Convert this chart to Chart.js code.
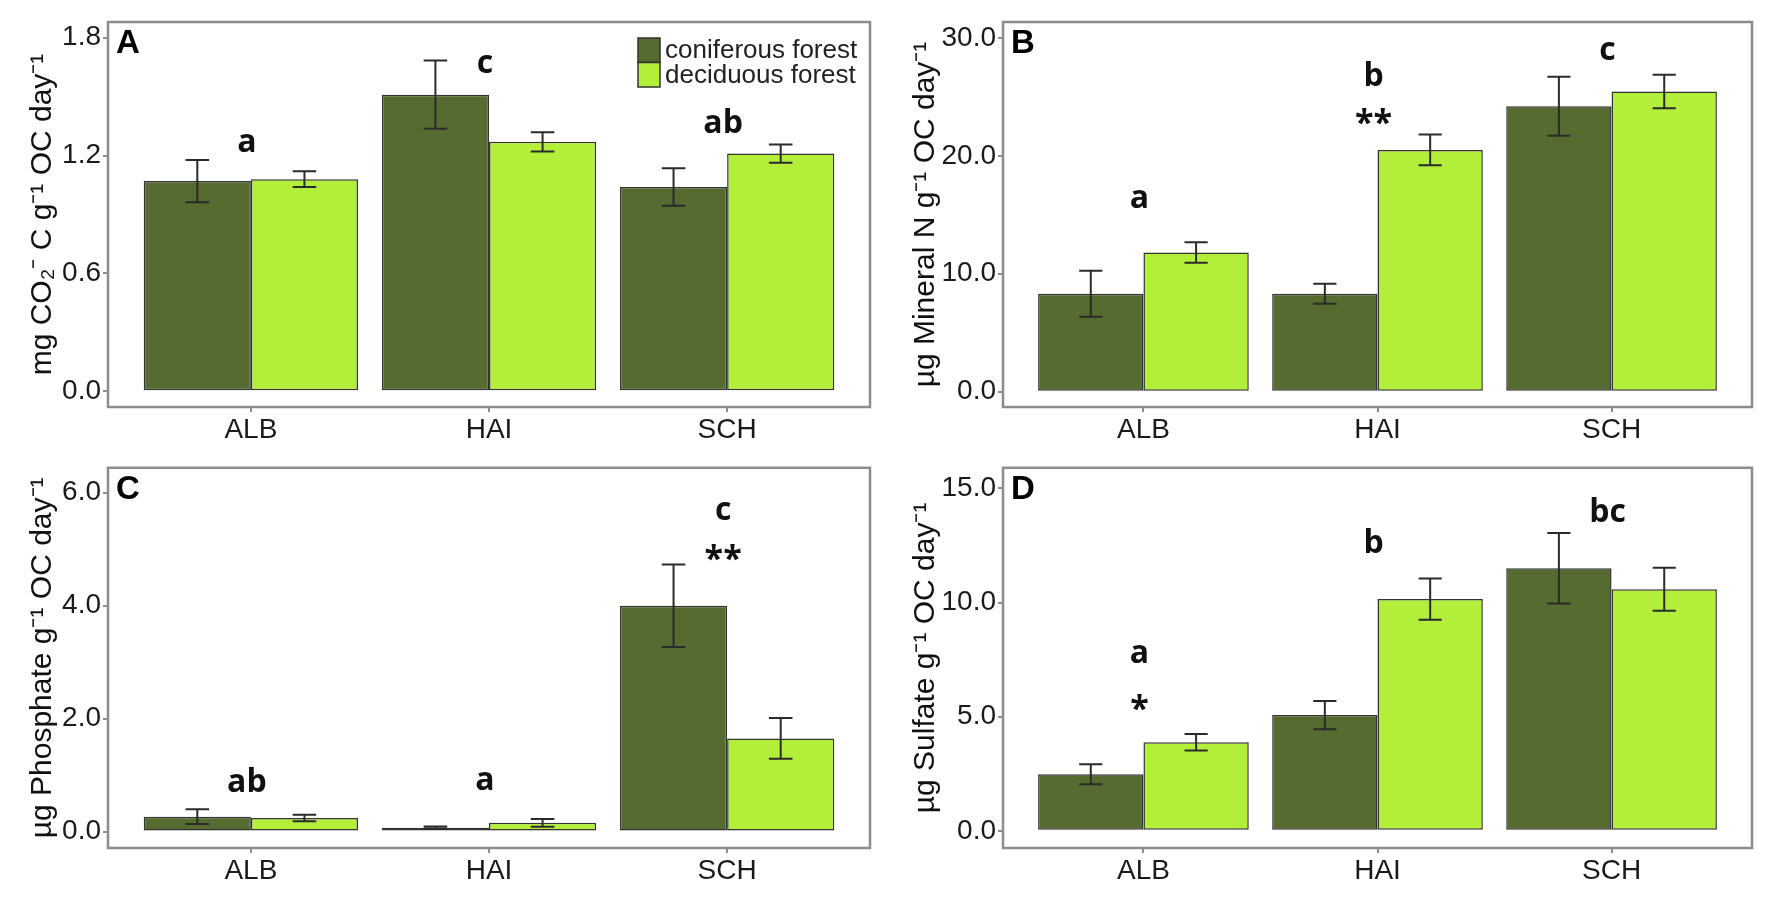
<!DOCTYPE html>
<html>
<head>
<meta charset="utf-8">
<script src="https://cdn.jsdelivr.net/npm/chart.js@4.4.1/dist/chart.umd.min.js"></script>
<style>
  html, body { margin: 0; padding: 0; background: #fff; }
  #fig { position: relative; width: 1770px; height: 899px; }
  #fig canvas { position: absolute; }
</style>
</head>
<body>
<div id="fig">
  <canvas id="chartA" width="885" height="449" style="left:0px;top:0px"></canvas>
  <canvas id="chartB" width="885" height="449" style="left:885px;top:0px"></canvas>
  <canvas id="chartC" width="885" height="450" style="left:0px;top:449px"></canvas>
  <canvas id="chartD" width="885" height="450" style="left:885px;top:449px"></canvas>
</div>
<script>
const sites = ['ALB', 'HAI', 'SCH'];
const forestTypes = ['coniferous forest', 'deciduous forest'];

// A: respiration
const co2Conif = [1.07, 1.51, 1.04];
const co2ConifSe = [0.107, 0.174, 0.096];
const co2Decid = [1.08, 1.27, 1.21];
const co2DecidSe = [0.04, 0.049, 0.047];
const co2Letters = ['a', 'c', 'ab'];
const co2LetterY = [1.265, 1.664, 1.378];
const co2Stars = ['', '', ''];
const co2StarY = [0, 0, 0];
const co2Ticks = [0, 0.6, 1.2, 1.8];

// B: mineral N
const nConif = [8.3, 8.3, 24.2];
const nConifSe = [1.95, 0.85, 2.5];
const nDecid = [11.8, 20.5, 25.45];
const nDecidSe = [0.875, 1.3, 1.42];
const nLetters = ['a', 'b', 'c'];
const nLetterY = [16.3, 27.0, 28.9];
const nStars = ['', '**', ''];
const nStarY = [0, 23.3, 0];
const nTicks = [0, 10, 20, 30];

// C: phosphate
const pConif = [0.265, 0.07, 4.0];
const pConifSe = [0.13, 0.02, 0.73];
const pDecid = [0.24, 0.155, 1.65];
const pDecidSe = [0.057, 0.07, 0.36];
const pLetters = ['ab', 'a', 'c'];
const pLetterY = [0.93, 0.9, 5.67];
const pStars = ['', '', '**'];
const pStarY = [0, 0, 4.94];
const pTicks = [0, 2, 4, 6];

// D: sulfate
const sConif = [2.48, 5.07, 11.5];
const sConifSe = [0.435, 0.615, 1.54];
const sDecid = [3.88, 10.15, 10.58];
const sDecidSe = [0.365, 0.9, 0.94];
const sLetters = ['a', 'b', 'bc'];
const sLetterY = [7.74, 12.72, 14.07];
const sStars = ['*', '', ''];
const sStarY = [5.6, 0, 0];
const sTicks = [0, 5, 10, 15];

const conifColor = '#556B2F';
const decidColor = '#B3EE3A';
const sansFont = '"Liberation Sans", Arial, sans-serif';

// box around the plot area
const boxPlugin = {
  id: 'box',
  afterDatasetsDraw(chart) {
    const { ctx, chartArea: a } = chart;
    ctx.save();
    ctx.strokeStyle = '#8c8c8c';
    ctx.lineWidth = 2.5;
    ctx.strokeRect(a.left, a.top, a.right - a.left, a.bottom - a.top);
    ctx.restore();
  }
};

// error bars from the dataset's se array
const errorBarPlugin = {
  id: 'errorBars',
  afterDatasetsDraw(chart) {
    const { ctx } = chart;
    const yScale = chart.scales.y;
    ctx.save();
    ctx.strokeStyle = '#2b2b2b';
    ctx.lineWidth = 2;
    chart.data.datasets.forEach((ds, d) => {
      const meta = chart.getDatasetMeta(d);
      meta.data.forEach((bar, i) => {
        const v = ds.data[i].y;
        const se = ds.se[i];
        const yHi = yScale.getPixelForValue(v + se);
        const yLo = yScale.getPixelForValue(v - se);
        const half = bar.width * 0.11;
        ctx.beginPath();
        ctx.moveTo(bar.x, yHi); ctx.lineTo(bar.x, yLo);
        ctx.moveTo(bar.x - half, yHi); ctx.lineTo(bar.x + half, yHi);
        ctx.moveTo(bar.x - half, yLo); ctx.lineTo(bar.x + half, yLo);
        ctx.stroke();
      });
    });
    ctx.restore();
  }
};

function drawCentered(ctx, txt, x, y) {
  const m = ctx.measureText(txt);
  ctx.fillText(txt, x, y + (m.actualBoundingBoxAscent - m.actualBoundingBoxDescent) / 2);
}

// significance letters, stars, panel tag and legend
const annotatePlugin = {
  id: 'annotate',
  afterDraw(chart, args, opts) {
    const { ctx, chartArea: a } = chart;
    const xs = chart.scales.x, ys = chart.scales.y;
    ctx.save();
    ctx.fillStyle = '#111';
    ctx.textAlign = 'center';
    ctx.textBaseline = 'alphabetic';
    ctx.font = 'bold 32px "Open Sans", ' + sansFont;
    opts.letters.forEach((t, i) => {
      if (t) drawCentered(ctx, t, xs.getPixelForValue(i + 1) - 4, ys.getPixelForValue(opts.letterY[i]));
    });
    ctx.font = 'bold 34px "Open Sans", ' + sansFont;
    opts.stars.forEach((t, i) => {
      if (t) drawCentered(ctx, t, xs.getPixelForValue(i + 1) - 4, ys.getPixelForValue(opts.starY[i]));
    });

    ctx.textAlign = 'left';
    ctx.fillStyle = '#000';
    ctx.font = 'bold 33px ' + sansFont;
    ctx.fillText(opts.tag, a.left + 8, a.top + 31);

    if (opts.legend) {
      const kx = a.right - 232, ky = a.top + 16, kw = 22, kh = 24.5;
      ctx.font = '26px ' + sansFont;
      ctx.textBaseline = 'middle';
      chart.data.datasets.forEach((ds, d) => {
        const y0 = ky + d * kh;
        ctx.fillStyle = ds.backgroundColor;
        ctx.fillRect(kx, y0, kw, kh);
        ctx.strokeStyle = '#333';
        ctx.lineWidth = 1.5;
        ctx.strokeRect(kx, y0, kw, kh);
        ctx.fillStyle = '#222';
        ctx.fillText(ds.label, kx + kw + 5, y0 + kh / 2 + 1);
      });
    }
    ctx.restore();
  }
};

function makePanel(id, p) {
  const series = [
    { label: forestTypes[0], vals: p.conif, se: p.conifSe, color: conifColor },
    { label: forestTypes[1], vals: p.decid, se: p.decidSe, color: decidColor }
  ];
  return new Chart(document.getElementById(id), {
    type: 'bar',
    data: {
      datasets: series.map(s => ({
        label: s.label,
        data: s.vals.map((v, i) => ({ x: i + 1, y: v })),
        se: s.se,
        backgroundColor: s.color,
        borderColor: '#333',
        borderWidth: 1.5,
        borderSkipped: false,
        categoryPercentage: 0.9,
        barPercentage: 1.0
      }))
    },
    options: {
      responsive: false,
      animation: false,
      devicePixelRatio: 1,
      layout: { padding: { top: p.top, right: p.right, left: 0, bottom: 0 } },
      plugins: {
        legend: { display: false },
        tooltip: { enabled: false },
        annotate: {
          letters: p.letters, letterY: p.letterY,
          stars: p.stars, starY: p.starY,
          tag: p.tag, legend: p.legend
        }
      },
      scales: {
        x: {
          type: 'linear',
          min: 0.4,
          max: 3.6,
          offset: false,
          afterBuildTicks: s => { s.ticks = sites.map((_, i) => ({ value: i + 1 })); },
          afterFit: s => { s.height = p.xHeight; },
          border: { display: false },
          grid: { offset: false, drawOnChartArea: false, drawTicks: true, tickLength: 5, color: '#8c8c8c', lineWidth: 2 },
          ticks: {
            callback: v => sites[v - 1] || '',
            autoSkip: false,
            maxRotation: 0,
            padding: 1,
            color: '#1a1a1a',
            font: { family: sansFont, size: 28 }
          }
        },
        y: {
          min: p.yMin,
          max: p.yMax,
          afterBuildTicks: s => { s.ticks = p.ticks.map(v => ({ value: v })); },
          afterFit: s => { s.width = p.yWidth; },
          border: { display: false },
          grid: { drawOnChartArea: false, drawTicks: true, tickLength: 5, color: '#8c8c8c', lineWidth: 2 },
          ticks: {
            callback: v => v.toFixed(1),
            padding: 2,
            color: '#1a1a1a',
            font: { family: sansFont, size: 28 }
          },
          title: {
            display: true,
            text: p.title,
            color: '#111',
            font: { family: sansFont, size: 30 },
            padding: { top: p.titlePad, bottom: 0 }
          }
        }
      }
    },
    plugins: [boxPlugin, errorBarPlugin, annotatePlugin]
  });
}

makePanel('chartA', {
  conif: co2Conif, conifSe: co2ConifSe, decid: co2Decid, decidSe: co2DecidSe,
  letters: co2Letters, letterY: co2LetterY, stars: co2Stars, starY: co2StarY,
  ticks: co2Ticks, yMin: -0.08, yMax: 1.88, tag: 'A', legend: true,
  title: 'mg CO\u2082\u207B C g\u207B\u00B9 OC day\u207B\u00B9',
  top: 22, right: 15, yWidth: 108, xHeight: 42, titlePad: 25
});
makePanel('chartB', {
  conif: nConif, conifSe: nConifSe, decid: nDecid, decidSe: nDecidSe,
  letters: nLetters, letterY: nLetterY, stars: nStars, starY: nStarY,
  ticks: nTicks, yMin: -1.3, yMax: 31.35, tag: 'B', legend: false,
  title: '\u00B5g Mineral N g\u207B\u00B9 OC day\u207B\u00B9',
  top: 22, right: 18, yWidth: 118, xHeight: 42, titlePad: 23
});
makePanel('chartC', {
  conif: pConif, conifSe: pConifSe, decid: pDecid, decidSe: pDecidSe,
  letters: pLetters, letterY: pLetterY, stars: pStars, starY: pStarY,
  ticks: pTicks, yMin: -0.29, yMax: 6.44, tag: 'C', legend: false,
  title: '\u00B5g Phosphate g\u207B\u00B9 OC day\u207B\u00B9',
  top: 11, right: 15, yWidth: 108, xHeight: 51, titlePad: 25
});
makePanel('chartD', {
  conif: sConif, conifSe: sConifSe, decid: sDecid, decidSe: sDecidSe,
  letters: sLetters, letterY: sLetterY, stars: sStars, starY: sStarY,
  ticks: sTicks, yMin: -0.75, yMax: 15.9, tag: 'D', legend: false,
  title: '\u00B5g Sulfate g\u207B\u00B9 OC day\u207B\u00B9',
  top: 11, right: 18, yWidth: 118, xHeight: 51, titlePad: 23
});
</script>
</body>
</html>
